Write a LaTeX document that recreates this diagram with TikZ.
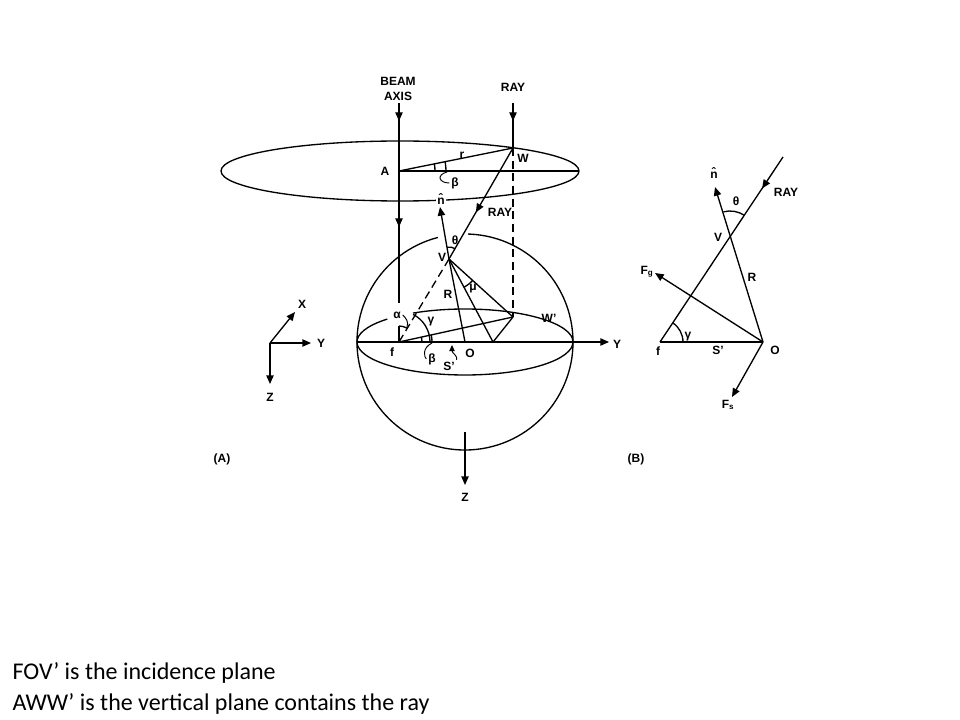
\documentclass[tikz,border=0pt]{standalone}
\usepackage{fontspec}
\setmainfont{Liberation Sans}
\newfontfamily\notefont{Carlito}
\usetikzlibrary{arrows.meta,decorations.markings}

\tikzset{
  lbl/.style={font=\bfseries\fontsize{9}{11.5}\selectfont, inner sep=1pt},
  tip/.style={-{Triangle[length=6.5pt,width=5.5pt]}},
  midtip/.style={postaction={decorate,decoration={markings,
      mark=at position #1 with {\arrow{Triangle[length=6.5pt,width=5.5pt]}}}}},
  hid/.style={dash pattern=on 6pt off 3.5pt},
  note/.style={font=\notefont\fontsize{18}{22}\selectfont, inner sep=0pt, anchor=base west}
}

\begin{document}
\begin{tikzpicture}[x=0.75pt,y=-0.75pt,line width=1pt]
\path[use as bounding box,fill=white] (0,0) rectangle (960,720);

% small axes
\coordinate (ax0) at (270,343);
\coordinate (axX) at (295,312);
\coordinate (axY) at (311,343);
\coordinate (axZ) at (270,384);
\draw[tip] (ax0) -- (axX);
\draw[tip] (ax0) -- (axY);
\draw[tip] (ax0) -- (axZ);
\node[lbl] (labX) at (302,304) {X};
\node[lbl] (labY) at (321,343) {Y};
\node[lbl] (labZ) at (270,397) {Z};

% (A) points
\coordinate (beamtop) at (399,103);
\coordinate (A) at (399,171);
\coordinate (beambot) at (399,303);
\coordinate (fstub) at (399,326);
\coordinate (f) at (399,342);
\coordinate (raytop) at (513,103);
\coordinate (W) at (513,148);
\coordinate (Wp) at (513,317);
\coordinate (V) at (449,259);
\coordinate (O) at (465,342);
\coordinate (P) at (493,342);
\coordinate (rim) at (579,171);
\coordinate (disc) at (400,171);
\coordinate (eqL) at (357,342);
\coordinate (Yend) at (609,342);
\coordinate (ntip) at (440,207);
\coordinate (Ztop) at (465,432);
\coordinate (Zend) at (465,485);

% disc at the top
\draw (disc) circle [x radius=179, y radius=30];
\draw (A) -- (rim);
\draw (A) -- (W);
\draw (A) ++(0:36) arc [start angle=0, end angle=-11, radius=36];
\draw (A) ++(0:47) arc [start angle=0, end angle=-11, radius=47];

% sphere and equator
\draw (O) ++(-104.5:108) arc [start angle=-104.5, end angle=-448.4, radius=108];
\draw (O) ++(0:108 and 33) arc [start angle=0, end angle=-118.8, x radius=108, y radius=33];
\draw (O) ++(-136:108 and 33) arc [start angle=-136, end angle=-360, x radius=108, y radius=33];
\draw[tip] (eqL) -- (Yend);
\draw[tip] (Ztop) -- (Zend);

% beam axis and ray
\draw[midtip=0.09, midtip=0.62] (beamtop) -- (beambot);
\draw (f) -- (fstub);
\draw[midtip=0.4] (raytop) -- (W);
\draw[midtip=0.58] (W) -- (V);
\draw[hid] (V) -- (f);
\draw[hid] (W) -- (Wp);

% incidence plane
\draw (V) -- (O);
\draw (V) -- (Wp);
\draw (V) -- (P) -- (Wp);
\draw (f) -- (Wp);

% angles of (A)
\draw (V) ++(-60:12) arc [start angle=-60, end angle=-100, radius=12];
\draw (V) ++(42:32) arc [start angle=42, end angle=62, radius=32];
\draw (f) ++(-59:16) arc [start angle=-59, end angle=-90, radius=16];
\draw (f) ++(0:31) arc [start angle=0, end angle=-63, radius=31];
\draw (f) ++(0:23) arc [start angle=0, end angle=-12, radius=23];
\draw (f) ++(0:33) arc [start angle=0, end angle=-12, radius=33];

% labels of (A)
\node[lbl, align=center] (labbeam) at (398,89) {BEAM\\AXIS};
\node[lbl] (labray) at (513,87) {RAY};
\node[lbl] (labA) at (385,171) {A};
\node[lbl] (labr) at (462,155) {r};
\node[lbl] (labbetaA) at (455,183) {β};
\node[lbl] (labW) at (523,158) {W};
\node[lbl, fill=white] (labn) at (441,199) {\^{n}};
\draw[tip] (V) -- (ntip);
\node[lbl] (labray2) at (500,212) {RAY};
\node[lbl] (labtheta) at (455,240) {θ};
\node[lbl] (labV) at (442,257) {V};
\node[lbl] (labR) at (448,294) {R};
\node[lbl] (labmu) at (473,289) {μ};
\node[lbl] (labalpha) at (397,315) {α};
\node[lbl] (labgamma) at (431,322) {γ};
\node[lbl] (labWp) at (549,318) {W’};
\node[lbl] (labf) at (392,352) {f};
\node[lbl] (labbetaf) at (432,359) {β};
\node[lbl] (labO) at (470,353) {O};
\node[lbl] (labS) at (449,366) {S’};
\node[lbl] (labYA) at (617,344) {Y};
\node[lbl] (labZA) at (465,497) {Z};

% leaders
\coordinate (legA) at (447,172);
\coordinate (legf) at (432,343);
\coordinate (legalpha) at (407,327);
\coordinate (legS) at (452,345);
\draw[line width=0.7pt] (legA) .. controls (436,175) and (439,183) .. (labbetaA.west);
\draw[line width=0.7pt] (legf) .. controls (422,348) and (424,357) .. (labbetaf.west);
\draw[line width=0.7pt] (labalpha.east) .. controls (406,318) and (409,322) .. (legalpha);
\draw[line width=0.7pt,-{Triangle[length=4.5pt,width=4pt]}] (labS.north east) .. controls (458,356) and (452,353) .. (legS);

\node[lbl] (labpA) at (222,459) {(A)};
\node[lbl] (labpB) at (636,459) {(B)};

% (B)
\coordinate (Bf) at (660,342);
\coordinate (BO) at (763,342);
\coordinate (BV) at (730,237);
\coordinate (Braytop) at (783,157);
\coordinate (Bn) at (715,187);
\coordinate (BFg) at (655,273);
\coordinate (BFs) at (732,397);
\draw (Bf) -- (BO);
\draw[midtip=0.17] (Braytop) -- (Bf);
\draw[tip] (BO) -- (Bn);
\draw[tip] (BO) -- (BFg);
\draw[tip] (BO) -- (BFs);
\draw (BV) ++(-56.5:26) arc [start angle=-56.5, end angle=-104.5, radius=26];
\draw (Bf) ++(0:23) arc [start angle=0, end angle=-56.4, radius=23];

\node[lbl] (Blabn) at (714,173) {\^{n}};
\node[lbl] (Blabtheta) at (736,201) {θ};
\node[lbl] (Blabray) at (786,192) {RAY};
\node[lbl] (BlabV) at (718,237) {V};
\node[lbl] (BlabR) at (752,277) {R};
\node[lbl] (BlabFg) at (647,272) {F\textsubscript{g}};
\node[lbl] (Blabgamma) at (688,337) {γ};
\node[lbl] (Blabf) at (658,351) {f};
\node[lbl] (BlabS) at (718,350) {S’};
\node[lbl] (BlabO) at (775,350) {O};
\node[lbl] (BlabFs) at (728,405) {F\textsubscript{s}};

% notes
\node[note] (note1) at (12,679) {FOV’ is the incidence plane};
\node[note] (note2) at (12,710) {AWW’ is the vertical plane contains the ray};
\end{tikzpicture}
\end{document}
